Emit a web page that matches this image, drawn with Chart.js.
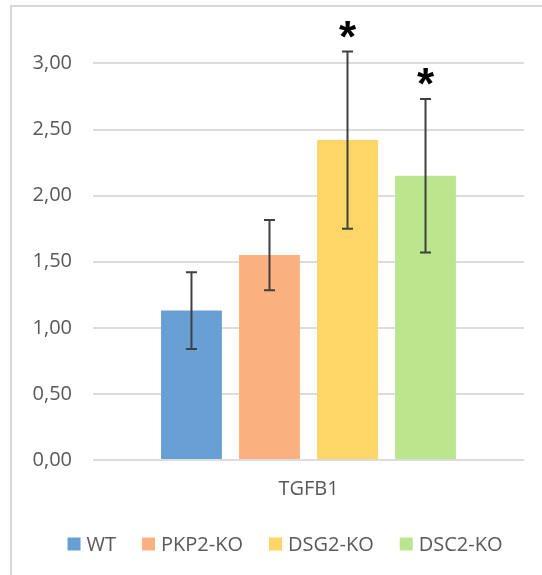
<!DOCTYPE html>
<html><head><meta charset="utf-8">
<script src="https://cdn.jsdelivr.net/npm/chart.js@4.4.1/dist/chart.umd.min.js"></script>
<style>html,body{margin:0;padding:0;background:#fff;}#wrap{position:relative;width:542px;height:575px;}canvas{display:block;}</style>
</head><body><div id="wrap"><canvas id="c" width="542" height="575"></canvas></div>
<script>
const categories = ['TGFB1'];
const seriesNames = ['WT', 'PKP2-KO', 'DSG2-KO', 'DSC2-KO'];
const wtValues = [1.13];
const pkp2Values = [1.55];
const dsg2Values = [2.42];
const dsc2Values = [2.15];
const wtErrors = [0.29];
const pkp2Errors = [0.265];
const dsg2Errors = [0.67];
const dsc2Errors = [0.58];
const significance = ['', '', '*', '*'];
const yTickValues = [0, 0.5, 1, 1.5, 2, 2.5, 3];
const yTickLabels = ['0,00', '0,50', '1,00', '1,50', '2,00', '2,50', '3,00'];

const seriesValues = [wtValues, pkp2Values, dsg2Values, dsc2Values];
const seriesErrors = [wtErrors, pkp2Errors, dsg2Errors, dsc2Errors];
const colors = ['#689FD4', '#FBB07F', '#FFD566', '#BBE68E'];
const FONT = "'Open Sans', 'Noto Sans', sans-serif";
const TEXT = '#595959';

const framePlugin = {
  id: 'frame',
  beforeDraw(chart) {
    const ctx = chart.ctx;
    ctx.save();
    ctx.fillStyle = '#ffffff';
    ctx.fillRect(0, 0, chart.width, chart.height);
    ctx.strokeStyle = '#d9d9d9';
    ctx.lineWidth = 2;
    ctx.beginPath();
    ctx.moveTo(11, chart.height);
    ctx.lineTo(11, 6);
    ctx.lineTo(chart.width, 6);
    ctx.stroke();
    ctx.restore();
  }
};

const errorBarPlugin = {
  id: 'errorBars',
  afterDatasetsDraw(chart) {
    const ctx = chart.ctx;
    const y = chart.scales.y;
    ctx.save();
    chart.data.datasets.forEach((ds, di) => {
      const meta = chart.getDatasetMeta(di);
      meta.data.forEach((bar, i) => {
        const v = seriesValues[di][i];
        const e = seriesErrors[di][i];
        const yTop = y.getPixelForValue(v + e);
        const yBot = y.getPixelForValue(v - e);
        ctx.strokeStyle = '#404040';
        ctx.lineWidth = 2;
        ctx.beginPath();
        ctx.moveTo(bar.x, yTop);
        ctx.lineTo(bar.x, yBot);
        ctx.moveTo(bar.x - 5.5, yTop);
        ctx.lineTo(bar.x + 5.5, yTop);
        ctx.moveTo(bar.x - 5.5, yBot);
        ctx.lineTo(bar.x + 5.5, yBot);
        ctx.stroke();
        if (significance[di]) {
          ctx.fillStyle = '#000000';
          ctx.font = "bold 44px 'Liberation Sans', Arial, sans-serif";
          ctx.textAlign = 'center';
          ctx.textBaseline = 'middle';
          ctx.fillText(significance[di], bar.x, yTop - 12);
        }
      });
    });
    ctx.restore();
  }
};

const legendPlugin = {
  id: 'customLegend',
  afterDraw(chart) {
    const ctx = chart.ctx;
    ctx.save();
    ctx.font = "20px " + FONT;
    const box = 13, gapText = 6, gapItem = 26;
    const widths = seriesNames.map(n => box + gapText + ctx.measureText(n).width);
    const total = widths.reduce((a, b) => a + b, 0) + gapItem * (seriesNames.length - 1);
    let x = 285 - total / 2;
    const cy = chart.chartArea.bottom + 84;
    ctx.textBaseline = 'middle';
    ctx.textAlign = 'left';
    seriesNames.forEach((n, i) => {
      ctx.fillStyle = colors[i];
      ctx.fillRect(x, cy - 6.5, box, box);
      ctx.fillStyle = TEXT;
      ctx.fillText(n, x + box + gapText, cy + 1);
      x += widths[i] + gapItem;
    });
    ctx.restore();
  }
};

new Chart(document.getElementById('c'), {
  type: 'bar',
  data: {
    labels: categories,
    datasets: seriesNames.map((name, i) => ({
      label: name,
      data: seriesValues[i],
      backgroundColor: colors[i],
      borderWidth: 0,
      categoryPercentage: 0.724,
      barPercentage: 0.78
    }))
  },
  options: {
    responsive: false,
    animation: false,
    devicePixelRatio: 1,
    layout: { padding: { left: 20, right: 18, top: 18, bottom: 70 } },
    plugins: {
      tooltip: { enabled: false },
      legend: { display: false }
    },
    scales: {
      x: {
        grid: { display: false, drawTicks: false },
        border: { display: false },
        afterFit(scale) { scale.height = 45; },
        ticks: { color: TEXT, padding: 17, font: { family: FONT, size: 20 } }
      },
      y: {
        min: 0,
        max: 3.23,
        afterBuildTicks(scale) { scale.ticks = yTickValues.map(v => ({ value: v })); },
        afterFit(scale) { scale.width = 73; },
        grid: { color: '#dcdcdc', lineWidth: 2, drawTicks: false },
        border: { display: false },
        ticks: {
          color: TEXT, padding: 21,
          font: { family: FONT, size: 20 },
          callback(value, index) { return yTickLabels[index]; }
        }
      }
    }
  },
  plugins: [framePlugin, errorBarPlugin, legendPlugin]
});
</script>
</body></html>
